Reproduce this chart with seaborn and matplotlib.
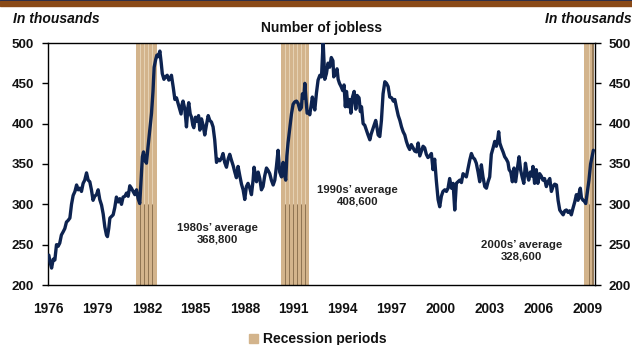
import numpy as np
import pandas as pd
import seaborn as sns
import matplotlib
matplotlib.use("Agg")
import matplotlib.pyplot as plt
from matplotlib.patches import Rectangle

# Number of jobless, in thousands (decimal year, value)
years = [
    1976.00, 1976.08, 1976.17, 1976.27, 1976.37, 1976.47, 1976.57, 1976.67, 1976.77, 1976.88,
    1976.98, 1977.08, 1977.18, 1977.29, 1977.39, 1977.49, 1977.60, 1977.70, 1977.80, 1977.90,
    1978.00, 1978.10, 1978.20, 1978.31, 1978.41, 1978.51, 1978.61, 1978.71, 1978.81, 1978.92,
    1979.02, 1979.12, 1979.23, 1979.33, 1979.43, 1979.53, 1979.59, 1979.67, 1979.74, 1979.84,
    1979.94, 1980.04, 1980.14, 1980.25, 1980.35, 1980.45, 1980.55, 1980.66, 1980.76, 1980.86,
    1980.96, 1981.06, 1981.16, 1981.27, 1981.37, 1981.47, 1981.57, 1981.65, 1981.73, 1981.80,
    1981.88, 1981.98, 1982.08, 1982.19, 1982.29, 1982.38, 1982.45, 1982.55, 1982.62, 1982.70,
    1982.80, 1982.88, 1982.95, 1983.05, 1983.15, 1983.25, 1983.35, 1983.45, 1983.51, 1983.62,
    1983.72, 1983.82, 1983.92, 1984.02, 1984.10, 1984.16, 1984.22, 1984.33, 1984.43, 1984.52,
    1984.57, 1984.66, 1984.74, 1984.82, 1984.88, 1984.98, 1985.08, 1985.17, 1985.25, 1985.35,
    1985.45, 1985.55, 1985.65, 1985.76, 1985.86, 1985.96, 1986.06, 1986.16, 1986.27, 1986.37,
    1986.47, 1986.57, 1986.67, 1986.77, 1986.88, 1986.98, 1987.08, 1987.18, 1987.29, 1987.39,
    1987.49, 1987.59, 1987.70, 1987.80, 1987.90, 1988.00, 1988.10, 1988.20, 1988.31, 1988.41,
    1988.51, 1988.57, 1988.66, 1988.72, 1988.82, 1988.92, 1989.02, 1989.12, 1989.22, 1989.33,
    1989.43, 1989.53, 1989.63, 1989.74, 1989.84, 1989.94, 1990.04, 1990.14, 1990.25, 1990.35,
    1990.45, 1990.51, 1990.58, 1990.65, 1990.76, 1990.86, 1990.96, 1991.06, 1991.17, 1991.27,
    1991.37, 1991.47, 1991.53, 1991.62, 1991.68, 1991.75, 1991.82, 1991.92, 1991.98, 1992.08,
    1992.14, 1992.22, 1992.29, 1992.39, 1992.49, 1992.60, 1992.70, 1992.80, 1992.90, 1993.00,
    1993.10, 1993.20, 1993.30, 1993.40, 1993.45, 1993.55, 1993.65, 1993.72, 1993.80, 1993.90,
    1994.00, 1994.08, 1994.16, 1994.23, 1994.33, 1994.43, 1994.50, 1994.60, 1994.70, 1994.80,
    1994.88, 1995.00, 1995.08, 1995.15, 1995.25, 1995.35, 1995.45, 1995.55, 1995.66, 1995.74,
    1995.82, 1995.92, 1996.02, 1996.10, 1996.17, 1996.27, 1996.37, 1996.47, 1996.58, 1996.68,
    1996.78, 1996.88, 1997.00, 1997.10, 1997.19, 1997.29, 1997.40, 1997.50, 1997.60, 1997.70,
    1997.80, 1997.90, 1998.00, 1998.10, 1998.20, 1998.31, 1998.41, 1998.52, 1998.62, 1998.72,
    1998.82, 1998.92, 1999.02, 1999.12, 1999.22, 1999.33, 1999.43, 1999.53, 1999.63, 1999.73,
    1999.84, 1999.94, 2000.04, 2000.14, 2000.25, 2000.35, 2000.45, 2000.55, 2000.66, 2000.76,
    2000.86, 2000.96, 2001.06, 2001.17, 2001.27, 2001.37, 2001.47, 2001.57, 2001.67, 2001.78,
    2001.88, 2001.98, 2002.08, 2002.18, 2002.29, 2002.39, 2002.49, 2002.59, 2002.70, 2002.80,
    2002.90, 2003.00, 2003.10, 2003.21, 2003.31, 2003.41, 2003.50, 2003.55, 2003.62, 2003.72,
    2003.82, 2003.92, 2004.02, 2004.12, 2004.19, 2004.29, 2004.39, 2004.49, 2004.59, 2004.70,
    2004.80, 2004.90, 2005.00, 2005.09, 2005.19, 2005.29, 2005.39, 2005.49, 2005.59, 2005.65,
    2005.75, 2005.85, 2005.95, 2006.06, 2006.16, 2006.26, 2006.36, 2006.47, 2006.57, 2006.68,
    2006.78, 2006.88, 2006.98, 2007.09, 2007.19, 2007.29, 2007.39, 2007.50, 2007.60, 2007.70,
    2007.80, 2007.90, 2008.00, 2008.10, 2008.21, 2008.31, 2008.41, 2008.50, 2008.55, 2008.62,
    2008.72, 2008.80, 2008.88, 2008.98, 2009.08, 2009.18, 2009.28, 2009.35,
]
jobless = [
    237, 228, 221, 232, 231, 250, 248, 252, 262, 266,
    270, 278, 280, 283, 300, 311, 316, 324, 318, 320,
    316, 326, 330, 339, 330, 328, 318, 305, 310, 312,
    318, 306, 299, 288, 272, 262, 260, 270, 283, 285,
    287, 296, 309, 303, 307, 300, 309, 310, 314, 310,
    323, 320, 316, 312, 318, 307, 301, 330, 359, 365,
    355, 351, 372, 393, 413, 440, 470, 480, 485, 483,
    490, 476, 462, 455, 458, 460, 454, 456, 460, 445,
    430, 432, 425, 418, 412, 424, 428, 418, 396, 420,
    426, 412, 408, 398, 395, 408, 403, 410, 392, 406,
    398, 386, 398, 410, 404, 402, 396, 380, 352, 356,
    354, 357, 363, 352, 346, 356, 362, 355, 348, 340,
    333, 347, 335, 325, 318, 306, 322, 326, 320, 312,
    330, 346, 335, 328, 340, 332, 318, 322, 335, 345,
    342, 338, 330, 324, 330, 347, 367, 340, 334, 352,
    335, 330, 360, 376, 395, 412, 424, 427, 428, 425,
    417, 420, 437, 432, 450, 430, 413, 415, 411, 425,
    433, 422, 417, 438, 454, 460, 458, 502, 455, 462,
    475, 470, 482, 478, 458, 462, 468, 455, 450, 446,
    441, 448, 421, 440, 421, 430, 413, 433, 440, 418,
    435, 432, 415, 421, 400, 398, 392, 386, 380, 387,
    392, 398, 404, 395, 386, 384, 404, 437, 452, 450,
    446, 433, 432, 428, 430, 420, 410, 404, 396, 390,
    386, 378, 372, 368, 374, 370, 366, 365, 376, 360,
    366, 372, 370, 362, 358, 360, 363, 343, 356, 330,
    306, 297, 310, 316, 318, 316, 320, 332, 320, 326,
    293, 326, 328, 330, 327, 338, 336, 334, 344, 355,
    363, 358, 356, 351, 340, 328, 349, 334, 322, 320,
    328, 334, 362, 370, 378, 372, 382, 390, 376, 370,
    365, 359, 356, 352, 343, 340, 328, 345, 328, 345,
    359, 342, 333, 326, 351, 338, 330, 340, 335, 347,
    326, 343, 326, 338, 335, 330, 332, 322, 328, 332,
    316, 322, 325, 324, 305, 293, 290, 287, 292, 293,
    290, 292, 287, 295, 303, 312, 305, 316, 320, 308,
    305, 304, 301, 315, 330, 350, 360, 367,
]

# Recession periods (decimal year start, end)
recession_start = [1981.33, 1990.19, 2008.78]
recession_end = [1982.60, 1991.94, 2009.38]

# Decade averages (label text and placement in data units)
avg_labels = ["1980s\u2019 average\n368,800", "1990s\u2019 average\n408,600", "2000s\u2019 average\n328,600"]
avg_x = [1986.35, 1994.92, 2004.96]
avg_y = [264, 311, 243]

yticks = [200, 250, 300, 350, 400, 450, 500]
xtick_years = [1976, 1979, 1982, 1985, 1988, 1991, 1994, 1997, 2000, 2003, 2006, 2009]

NAVY = "#0D2350"
TAN = "#D3B48C"
TAN_LIGHT = "#E6D2B5"
TAN_DARK = "#8E7352"

sns.set_style("white")
plt.rcParams["font.family"] = ["Liberation Sans", "DejaVu Sans"]

fig = plt.figure(figsize=(6.32, 3.45), dpi=100)
W, H = 632, 345
ax = fig.add_axes([48 / W, 1 - 285 / H, 547 / W, 242 / H])

# header band
fig.patches.append(Rectangle((0, 1 - 1.5 / H), 1, 1.5 / H, transform=fig.transFigure,
                             color="#1B2A55", zorder=5))
fig.patches.append(Rectangle((0, 1 - 5.5 / H), 1, 4.0 / H, transform=fig.transFigure,
                             color="#8A4A17", zorder=5))

# recession shading with striped columns
for x0, x1 in zip(recession_start, recession_end):
    ax.axvspan(x0, x1, color=TAN, lw=0, zorder=1)
    n = max(2, int(round((x1 - x0) / 0.26)))
    xs = np.linspace(x0, x1, n + 1)[1:-1]
    ax.vlines(xs, 300, 500, color=TAN_LIGHT, lw=0.7, zorder=1.2)
    ax.vlines(xs, 200, 300, color=TAN_DARK, lw=0.7, zorder=1.2)
ax.vlines([recession_end[2] - 0.03], 200, 500, color=TAN_DARK, lw=1.2, zorder=1.3)

df = pd.DataFrame({"year": years, "jobless": jobless})
sns.lineplot(data=df, x="year", y="jobless", ax=ax, color=NAVY, lw=2.4, zorder=3)

ax.set_xlim(1975.95, 2009.45)
ax.set_ylim(200, 500)
ax.set_xlabel("")
ax.set_ylabel("")
ax.set_yticks(yticks)
ax.set_xticks(xtick_years)
ax.set_xticklabels([str(y) for y in xtick_years], fontsize=9.8, fontweight="bold", color="#111111")
ax.set_yticklabels([str(v) for v in yticks], fontsize=9.6, fontweight="bold", color="#111111")
ax.tick_params(axis="y", which="both", left=True, right=True, labelleft=True, labelright=True,
               direction="out", length=4, width=1, color="black", pad=6)
ax.tick_params(axis="x", length=0, pad=12)
for s in ax.spines.values():
    s.set_visible(True)
    s.set_color("black")
    s.set_linewidth(1.0)
ax.grid(False)

for lab, x, y in zip(avg_labels, avg_x, avg_y):
    ax.text(x, y, lab, ha="center", va="center", fontsize=8.2, fontweight="bold",
            color="#222222", linespacing=1.2, zorder=4)

fig.text(322 / W, 1 - 28 / H, "Number of jobless", ha="center", va="center",
         fontsize=10, fontweight="bold", color="#111111")
fig.text(13 / W, 1 - 19 / H, "In thousands", ha="left", va="center",
         fontsize=10, fontweight="bold", fontstyle="italic", color="#111111")
fig.text(545 / W, 1 - 19 / H, "In thousands", ha="left", va="center",
         fontsize=10, fontweight="bold", fontstyle="italic", color="#111111")

# legend
fig.patches.append(Rectangle((249 / W, 1 - 343 / H), 9 / W, 9 / H, transform=fig.transFigure,
                             color=TAN, zorder=5))
fig.text(263 / W, 1 - 338.5 / H, "Recession periods", ha="left", va="center",
         fontsize=10, fontweight="bold", color="#111111")

fig.savefig("out.png", dpi=100)
